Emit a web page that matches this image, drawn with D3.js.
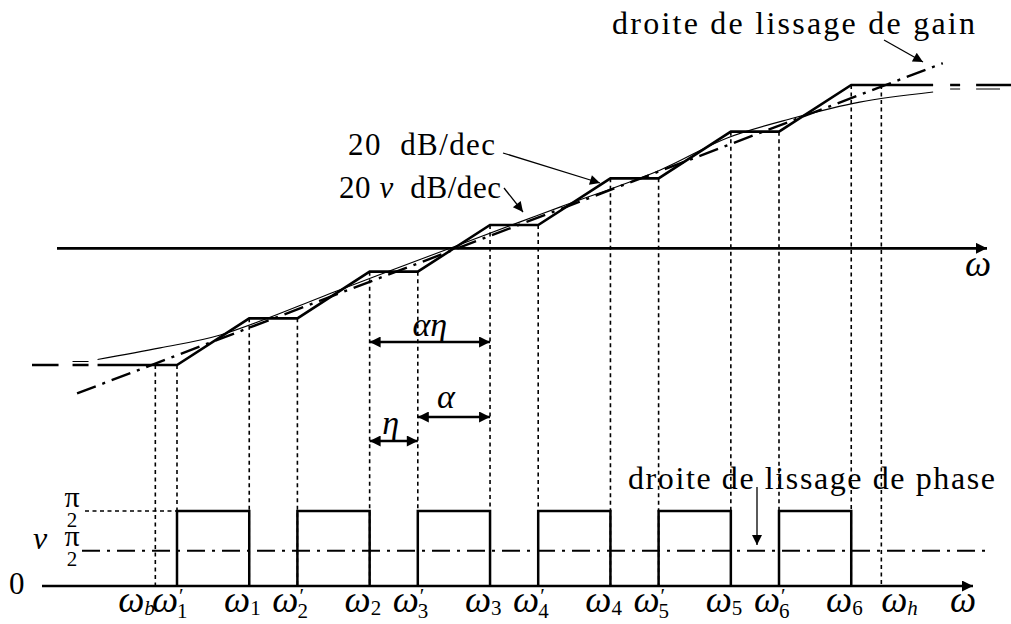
<!DOCTYPE html>
<html lang="fr">
<head>
<meta charset="UTF-8">
<title>Approximation par cellules : gain et phase</title>
<script src="https://d3js.org/d3.v7.min.js"></script>
<style>
  body { margin: 0; background: #fff; }
  text { font-family: "Liberation Serif", "DejaVu Serif", serif; fill: #000; }
  .math { font-style: italic; }
</style>
</head>
<body>
<svg width="1011" height="624"></svg>
<script>
// frequencies on a log axis, one unit = one cell (omega'_k -> omega'_k+1)
const zeroFreqs = [0, 1, 2, 3, 4, 5];               // omega'_1 .. omega'_6
const poleFreqs = [0.6, 1.6, 2.6, 3.6, 4.6, 5.6];   // omega_1 .. omega_6
const omegaB = -0.18, omegaH = 5.85;
const zeroNames = ["1", "2", "3", "4", "5", "6"];
const poleNames = ["1", "2", "3", "4", "5", "6"];

// gain (dB) of the flat steps of the staircase
const gainLevels = [-30, -18, -6, 6, 18, 30, 42];
const stairFrom = -0.66, stairTo = 6.28;

// smoothing line "droite de lissage de gain" (20 nu dB/dec)
const fitU = [-0.83, 6.36];
const fitG = [-37.3, 47.6];

const curveU = [-0.66, -0.14, 0.36, 1.35, 2.29, 2.85, 3.18, 4.01, 4.57, 5.12, 5.67, 6.28];
const curveG = [-28.6, -25.6, -22.3, -10.7, 0.3, 6.8, 10.6, 20.1, 28.4, 33.5, 37.6, 40.2];

// phase
const phaseHigh = Math.PI / 2;
const phaseNu = 0.47 * Math.PI / 2;

const svg = d3.select("svg");

const x = d3.scaleLinear().domain([0, 5]).range([177, 779]);
const yG = d3.scaleLinear().domain([-30, 42]).range([365, 85]);
const yP = d3.scaleLinear().domain([0, Math.PI / 2]).range([586, 511]);

// arrow heads
const defs = svg.append("defs");
function marker(id, w, h) {
  defs.append("marker")
      .attr("id", id)
      .attr("viewBox", "0 0 10 10")
      .attr("refX", 10).attr("refY", 5)
      .attr("markerUnits", "userSpaceOnUse")
      .attr("markerWidth", w).attr("markerHeight", h)
      .attr("orient", "auto-start-reverse")
    .append("path")
      .attr("d", "M0,0L10,5L0,10Z")
      .attr("fill", "#000");
}
marker("axisHead", 16, 11);
marker("dimHead", 15, 11);
marker("noteHead", 14, 10);

const line = d3.line();

// ---- gain part ----
svg.append("line")
    .attr("x1", 57).attr("x2", 987)
    .attr("y1", yG(0)).attr("y2", yG(0))
    .attr("stroke", "#000").attr("stroke-width", 2.6)
    .attr("marker-end", "url(#axisHead)");

// dotted verticals down to the phase axis
const marks = [{u: omegaB, g: gainLevels[0]}]
  .concat(zeroFreqs.map((u, i) => ({u: u, g: gainLevels[i]})))
  .concat(poleFreqs.map((u, i) => ({u: u, g: gainLevels[i + 1]})))
  .concat([{u: omegaH, g: gainLevels[gainLevels.length - 1]}]);

svg.selectAll(".vdot")
  .data(marks)
  .enter().append("line")
    .attr("class", "vdot")
    .attr("x1", d => x(d.u)).attr("x2", d => x(d.u))
    .attr("y1", d => yG(d.g)).attr("y2", yP(0))
    .attr("stroke", "#000").attr("stroke-width", 1.6)
    .attr("stroke-dasharray", "4,3.5");

// thin curve
svg.append("path")
    .attr("d", d3.line().curve(d3.curveCatmullRom)(curveU.map((u, i) => [x(u), yG(curveG[i])])))
    .attr("fill", "none").attr("stroke", "#000").attr("stroke-width", 1.1);

// dashed continuations of the curve and the staircase
const last = gainLevels.length - 1;
svg.append("line")
    .attr("x1", x(stairFrom)).attr("x2", 32)
    .attr("y1", yG(gainLevels[0])).attr("y2", yG(gainLevels[0]))
    .attr("stroke", "#000").attr("stroke-width", 2.4)
    .attr("stroke-dasharray", "0,9,16,14,40");
svg.append("line")
    .attr("x1", x(stairFrom)).attr("x2", 72)
    .attr("y1", yG(curveG[0]) + 2).attr("y2", yG(curveG[0]) + 2)
    .attr("stroke", "#000").attr("stroke-width", 1.1)
    .attr("stroke-dasharray", "0,9,16,30");
svg.append("line")
    .attr("x1", x(stairTo)).attr("x2", 1011)
    .attr("y1", yG(gainLevels[last])).attr("y2", yG(gainLevels[last]))
    .attr("stroke", "#000").attr("stroke-width", 2.4)
    .attr("stroke-dasharray", "0,17,10,16,60");
svg.append("line")
    .attr("x1", x(stairTo)).attr("x2", 1000)
    .attr("y1", yG(curveG[curveG.length - 1]) - 3).attr("y2", yG(curveG[curveG.length - 1]) - 3)
    .attr("stroke", "#000").attr("stroke-width", 1.1)
    .attr("stroke-dasharray", "0,17,10,16,60");

// smoothing line
svg.append("path")
    .attr("d", line(fitU.map((u, i) => [x(u), yG(fitG[i])])))
    .attr("fill", "none").attr("stroke", "#000").attr("stroke-width", 2.4)
    .attr("stroke-dasharray", "20,7,3,7");

// staircase
const stair = [[stairFrom, gainLevels[0]]];
zeroFreqs.forEach((u, i) => {
  stair.push([u, gainLevels[i]]);
  stair.push([poleFreqs[i], gainLevels[i + 1]]);
});
stair.push([stairTo, gainLevels[last]]);
svg.append("path")
    .attr("d", line(stair.map(p => [x(p[0]), yG(p[1])])))
    .attr("fill", "none").attr("stroke", "#000").attr("stroke-width", 2.6)
    .attr("stroke-linejoin", "miter");

// ---- phase part ----
svg.append("line")
    .attr("x1", 42).attr("x2", 973)
    .attr("y1", yP(0)).attr("y2", yP(0))
    .attr("stroke", "#000").attr("stroke-width", 2.6)
    .attr("marker-end", "url(#axisHead)");

svg.append("line")
    .attr("x1", 85).attr("x2", x(zeroFreqs[0]))
    .attr("y1", yP(phaseHigh)).attr("y2", yP(phaseHigh))
    .attr("stroke", "#000").attr("stroke-width", 1.6)
    .attr("stroke-dasharray", "4,3.5");

svg.append("line")
    .attr("x1", 82).attr("x2", 985)
    .attr("y1", yP(phaseNu)).attr("y2", yP(phaseNu))
    .attr("stroke", "#000").attr("stroke-width", 2.2)
    .attr("stroke-dasharray", "18,7,3,7");

svg.selectAll(".cell")
  .data(zeroFreqs)
  .enter().append("path")
    .attr("class", "cell")
    .attr("d", (u, i) => line([[x(u), yP(0)], [x(u), yP(phaseHigh)],
                               [x(poleFreqs[i]), yP(phaseHigh)], [x(poleFreqs[i]), yP(0)]]))
    .attr("fill", "none").attr("stroke", "#000").attr("stroke-width", 2.5);

// ---- labels ----
function txt(s, px, py, size, cls, anchor) {
  return svg.append("text")
      .attr("x", px).attr("y", py)
      .attr("class", cls || null)
      .attr("text-anchor", anchor || "start")
      .style("font-size", size + "px")
      .text(s);
}

// omega label: the omega glyph ends on the frequency line, indices after it
const base = 612;
function omegaLabel(px, sub, primed, italicSub, shift) {
  const t = svg.append("text").attr("y", base).style("font-size", "37px");
  t.append("tspan").attr("class", "math").text("ω");
  const w = t.node().getComputedTextLength();
  t.attr("x", px - w + 1 + (shift || 0));
  if (primed) {
    const p = t.append("tspan").attr("dx", 1).attr("dy", -9).style("font-size", "21px").text("′");
    const pw = p.node().getComputedTextLength();
    t.append("tspan").attr("dx", -pw - 2).attr("dy", 15)
      .style("font-size", "21px").text(sub);
  } else {
    t.append("tspan").attr("dy", 3)
      .attr("class", italicSub ? "math" : null)
      .style("font-size", "21px").text(sub);
  }
}
omegaLabel(x(omegaB), "b", false, true, -12);
zeroFreqs.forEach((u, i) => omegaLabel(x(u), zeroNames[i], true));
poleFreqs.forEach((u, i) => omegaLabel(x(u), poleNames[i], false));
omegaLabel(x(omegaH), "h", false, true, 25);

txt("ω", 976, 612, 37, "math", "end");
txt("ω", 991, 276, 37, "math", "end");

// phase levels: 0, pi/2, nu pi/2
txt("0", 9, 594, 31);
function halfPi(t, cx, piBase) {
  t.append("tspan").attr("x", cx).attr("y", piBase).attr("text-anchor", "middle")
    .style("font-size", "30px").text("π");
  t.append("tspan").attr("x", cx).attr("y", piBase + 20).attr("text-anchor", "middle")
    .style("font-size", "21px").text("2");
}
halfPi(svg.append("text").attr("text-anchor", "middle"), 72, 507);
const nuLab = svg.append("text");
nuLab.append("tspan").attr("x", 33).attr("y", 549).attr("class", "math")
  .style("font-size", "32px").text("ν");
halfPi(nuLab, 72, 546);

txt("droite de lissage de gain", 612, 34, 32).attr("textLength", 363).attr("lengthAdjust", "spacing");
txt("droite de lissage de phase", 628, 489, 32).attr("textLength", 367).attr("lengthAdjust", "spacing");

const t1 = txt("", 348, 155, 31).style("white-space", "pre");
t1.append("tspan").text("20  dB/dec");
t1.attr("textLength", 147).attr("lengthAdjust", "spacing");
const t2 = txt("", 339, 198, 31).style("white-space", "pre");
t2.append("tspan").text("20");
t2.append("tspan").attr("class", "math").text(" ν");
t2.append("tspan").text("  dB/dec");
t2.attr("textLength", 162).attr("lengthAdjust", "spacing");

// note arrows
function note(x1, y1, x2, y2) {
  svg.append("line")
      .attr("x1", x1).attr("y1", y1).attr("x2", x2).attr("y2", y2)
      .attr("stroke", "#000").attr("stroke-width", 1.3)
      .attr("marker-end", "url(#noteHead)");
}
note(884, 40, 923, 62);
note(503, 153, 600, 183);
note(504, 188, 523, 212);
note(757, 487, 757, 545);

// dimension arrows between frequencies
const dims = [
  {from: poleFreqs[1], to: poleFreqs[2], label: "αη", row: 0},
  {from: zeroFreqs[2], to: poleFreqs[2], label: "α", row: 1},
  {from: poleFreqs[1], to: zeroFreqs[2], label: "η", row: 2}
];
const dimRowY = [342, 417, 441];
const dimLabelY = [336, 408, 434];
dims.forEach(d => {
  svg.append("line")
      .attr("x1", x(d.from)).attr("x2", x(d.to))
      .attr("y1", dimRowY[d.row]).attr("y2", dimRowY[d.row])
      .attr("stroke", "#000").attr("stroke-width", 2.4)
      .attr("marker-start", "url(#dimHead)")
      .attr("marker-end", "url(#dimHead)");
  txt(d.label, (x(d.from) + x(d.to)) / 2 + (d.row === 1 ? -8 : (d.row === 2 ? -3 : 0)),
      dimLabelY[d.row], 34, "math", "middle");
});
</script>
</body>
</html>
